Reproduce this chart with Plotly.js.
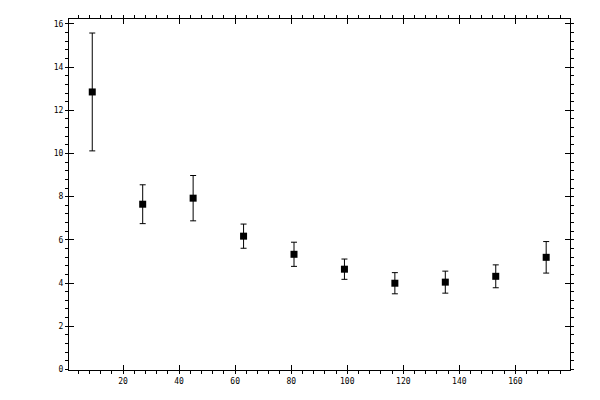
<!DOCTYPE html>
<html>
<head>
    <meta charset="UTF-8">
    <title>Error bars</title>
    <script src="https://cdn.plot.ly/plotly-3.0.1.min.js"></script>
    <style>
        body { margin: 0; padding: 0; background: white; }
        #chart { width: 600px; height: 400px; }
    </style>
</head>
<body>
    <div id="chart"></div>
    <script>
        // values
        var xVals = [9, 27, 45, 63, 81, 99, 117, 135, 153, 171];
        var yVals = [12.85, 7.65, 7.93, 6.17, 5.33, 4.64, 3.99, 4.04, 4.31, 5.19];
        var yErr = [2.73, 0.9, 1.05, 0.56, 0.56, 0.47, 0.49, 0.51, 0.53, 0.73];

        var xRange = [0.7, 179.5];
        var yRange = [-0.03, 16.23];
        var tickFont = { family: 'DejaVu Sans Mono', size: 8, color: '#000' };

        var trace = {
            x: xVals,
            y: yVals,
            type: 'scatter',
            mode: 'markers',
            marker: { symbol: 'square', size: 7, color: '#000' },
            error_y: { type: 'data', array: yErr, visible: true, color: '#000', thickness: 1, width: 3 },
            hoverinfo: 'x+y'
        };

        // empty trace so the inner-tick axes get drawn
        var dummy = { x: [], y: [], xaxis: 'x2', yaxis: 'y2', type: 'scatter', hoverinfo: 'skip', showlegend: false };

        var layout = {
            width: 600,
            height: 400,
            margin: { l: 69, r: 30, t: 19, b: 30 },
            paper_bgcolor: 'white',
            plot_bgcolor: 'white',
            showlegend: false,
            xaxis: {
                range: xRange, tick0: 0, dtick: 20,
                showgrid: false, zeroline: false,
                showline: true, linecolor: '#000', linewidth: 1, mirror: 'ticks',
                ticks: 'outside', ticklen: 3, tickcolor: '#000', tickwidth: 1,
                minor: { dtick: 4, tick0: 0, ticks: 'outside', ticklen: 3, tickcolor: '#000', showgrid: false },
                tickfont: tickFont
            },
            yaxis: {
                range: yRange, tick0: 0, dtick: 2,
                showgrid: false, zeroline: false,
                showline: true, linecolor: '#000', linewidth: 1, mirror: 'ticks',
                ticks: 'outside', ticklen: 3, tickcolor: '#000', tickwidth: 1,
                minor: { dtick: 0.4, tick0: 0, ticks: 'outside', ticklen: 3, tickcolor: '#000', showgrid: false },
                tickfont: tickFont
            },
            xaxis2: {
                overlaying: 'x', range: xRange, tick0: 0, dtick: 20,
                showgrid: false, zeroline: false, showline: false, mirror: 'ticks',
                ticks: 'inside', ticklen: 5, tickcolor: '#000', showticklabels: false
            },
            yaxis2: {
                overlaying: 'y', range: yRange, tick0: 0, dtick: 2,
                showgrid: false, zeroline: false, showline: false, mirror: 'ticks',
                ticks: 'inside', ticklen: 5, tickcolor: '#000', showticklabels: false
            }
        };

        Plotly.newPlot('chart', [trace, dummy], layout, { displayModeBar: false, staticPlot: true });
    </script>
</body>
</html>
